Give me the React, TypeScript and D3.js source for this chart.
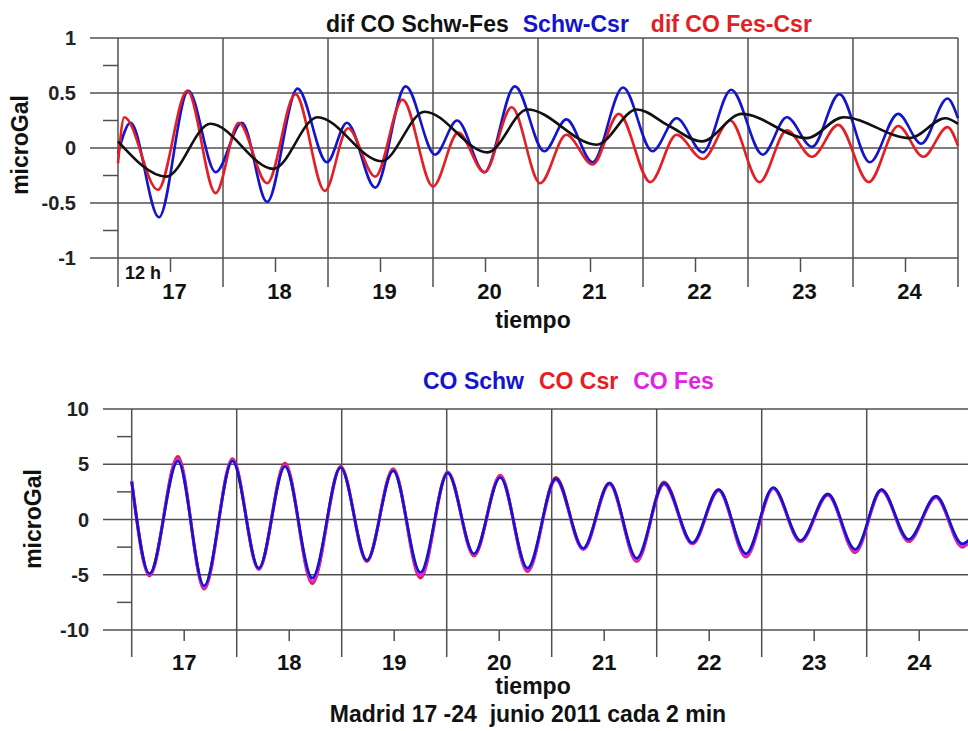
import React from "react";
import * as d3 from "d3";

// ---- upper panel: differences of ocean-loading corrections (microGal) ----
const blackTimes = [16.5, 16.96, 17.38, 17.98, 18.4, 19.01, 19.42, 20.02, 20.4, 21.06, 21.44, 21.75, 22.06, 22.44, 23.06, 23.41, 24.04, 24.38, 24.5];
const blackValues = [0.06, -0.26, 0.22, -0.19, 0.28, -0.12, 0.33, -0.04, 0.35, 0.03, 0.35, 0.2, 0.06, 0.31, 0.09, 0.28, 0.09, 0.27, 0.22];

const blueTimes = [16.5, 16.62, 16.89, 17.17, 17.43, 17.68, 17.92, 18.21, 18.49, 18.68, 18.95, 19.24, 19.52, 19.73, 19.99, 20.28, 20.56, 20.77, 21.02, 21.31, 21.59, 21.82, 22.07, 22.34, 22.64, 22.87, 23.11, 23.37, 23.66, 23.93, 24.15, 24.4, 24.5];
const blueValues = [-0.05, 0.23, -0.63, 0.52, -0.22, 0.23, -0.49, 0.54, -0.13, 0.23, -0.36, 0.56, -0.06, 0.25, -0.22, 0.56, -0.03, 0.26, -0.13, 0.55, -0.03, 0.27, -0.04, 0.53, -0.06, 0.28, 0.01, 0.49, -0.13, 0.31, 0.04, 0.45, 0.27];

const redTimes = [16.5, 16.56, 16.88, 17.16, 17.43, 17.65, 17.92, 18.19, 18.47, 18.69, 18.95, 19.21, 19.5, 19.74, 19.99, 20.25, 20.52, 20.77, 21.02, 21.27, 21.57, 21.82, 22.07, 22.33, 22.61, 22.87, 23.11, 23.36, 23.65, 23.93, 24.17, 24.4, 24.5];
const redValues = [-0.14, 0.28, -0.38, 0.52, -0.41, 0.23, -0.32, 0.49, -0.39, 0.18, -0.26, 0.44, -0.35, 0.14, -0.22, 0.37, -0.32, 0.12, -0.15, 0.31, -0.31, 0.12, -0.1, 0.25, -0.31, 0.16, -0.08, 0.21, -0.31, 0.2, -0.08, 0.19, 0.02];

// ---- lower panel: ocean-loading corrections per model (microGal) ----
const coTimes = [16.5, 16.67, 16.94, 17.19, 17.46, 17.71, 17.96, 18.22, 18.49, 18.74, 18.99, 19.25, 19.51, 19.76, 20.01, 20.27, 20.54, 20.8, 21.05, 21.31, 21.57, 21.84, 22.09, 22.35, 22.61, 22.87, 23.13, 23.39, 23.64, 23.9, 24.16, 24.41, 24.5];
const coSchw = [3.4, -4.9, 5.3, -6.0, 5.3, -4.4, 4.8, -5.3, 4.7, -3.7, 4.4, -4.8, 4.2, -3.1, 3.8, -4.4, 3.7, -2.6, 3.3, -3.5, 3.3, -2.1, 2.7, -3.1, 2.9, -1.9, 2.3, -2.7, 2.7, -1.8, 2.1, -2.2, -1.6];
const coCsr = [3.5, -5.1, 5.7, -6.3, 5.5, -4.5, 5.1, -5.8, 4.8, -3.8, 4.6, -5.3, 4.3, -3.3, 4.0, -4.7, 3.8, -2.7, 3.3, -3.8, 3.4, -2.2, 2.7, -3.4, 2.8, -2.0, 2.3, -3.0, 2.7, -2.0, 2.1, -2.5, -1.8];
const coFes = [3.5, -5.0, 5.5, -6.2, 5.4, -4.5, 4.9, -5.6, 4.7, -3.7, 4.5, -5.1, 4.2, -3.2, 3.9, -4.6, 3.6, -2.7, 3.2, -3.7, 3.2, -2.2, 2.6, -3.3, 2.8, -2.0, 2.2, -2.9, 2.6, -1.9, 2.0, -2.4, -1.7];

// ---- axes ----
const dayTicks = [17, 18, 19, 20, 21, 22, 23, 24];
const noonLines = [16.5, 17.5, 18.5, 19.5, 20.5, 21.5, 22.5, 23.5, 24.5];
const topMajor = [-1, -0.5, 0, 0.5, 1];
const topMajorLabels = ["-1", "-0.5", "0", "0.5", "1"];
const topMinor = [-0.75, -0.25, 0.25, 0.75];
const botMajor = [-10, -5, 0, 5, 10];
const botMinor = [-7.5, -2.5, 2.5, 7.5];

const BLUE = "#1414cc";
const RED = "#e31e24";
const MAGENTA = "#e022e6";
const GRID = "#505050";
const FONT = "'Liberation Sans', Arial, Helvetica, sans-serif";

const W = 968;
const H = 731;

function pathOf(times: number[], values: number[], x: d3.ScaleLinear<number, number>, y: d3.ScaleLinear<number, number>) {
  const line = d3
    .line<number>()
    .x((_, i) => x(times[i]))
    .y((v) => y(v))
    .curve(d3.curveMonotoneX);
  return line(values) || "";
}

export default function App() {
  // upper panel scales
  const xTop = d3.scaleLinear().domain([16.5, 24.5]).range([118, 958]);
  const yTop = d3.scaleLinear().domain([-1, 1]).range([258, 38]);
  // lower panel scales
  const xBot = d3.scaleLinear().domain([16.5, 24.5]).range([131.7, 971.7]);
  const yBot = d3.scaleLinear().domain([-10, 10]).range([630, 409]);

  const txt = { fontFamily: FONT, fontWeight: 700 } as const;

  return (
    <div style={{ position: "absolute", left: 0, top: 0, width: W, height: H, background: "#fff" }}>
      <svg width={W} height={H} viewBox={`0 0 ${W} ${H}`} style={{ display: "block" }}>
        <rect width={W} height={H} fill="#fff" />

        {/* ===== upper panel ===== */}
        <g>
          {topMajor.map((v) => (
            <line key={"th" + v} x1={90} x2={xTop(24.5)} y1={yTop(v)} y2={yTop(v)} stroke={GRID} strokeWidth={1.5} />
          ))}
          {topMinor.map((v) => (
            <line key={"tm" + v} x1={103} x2={xTop(16.5)} y1={yTop(v)} y2={yTop(v)} stroke={GRID} strokeWidth={1.5} />
          ))}
          {noonLines.map((t) => (
            <line key={"tv" + t} x1={xTop(t)} x2={xTop(t)} y1={yTop(1)} y2={287} stroke={GRID} strokeWidth={1.5} />
          ))}
          {dayTicks.map((t) => (
            <line key={"tt" + t} x1={xTop(t)} x2={xTop(t)} y1={yTop(-1)} y2={272} stroke={GRID} strokeWidth={1.5} />
          ))}

          <path d={pathOf(blueTimes, blueValues, xTop, yTop)} fill="none" stroke={BLUE} strokeWidth={2.6} />
          <path d={pathOf(redTimes, redValues, xTop, yTop)} fill="none" stroke={RED} strokeWidth={2.6} />
          <path d={pathOf(blackTimes, blackValues, xTop, yTop)} fill="none" stroke="#111" strokeWidth={2.6} />

          {topMajor.map((v, i) => (
            <text key={"tl" + v} x={76} y={yTop(v)} dy="0.36em" textAnchor="end" fontSize={20} style={txt} fill="#222">
              {topMajorLabels[i]}
            </text>
          ))}
          {dayTicks.map((t) => (
            <text key={"tx" + t} x={xTop(t) + 4} y={299} textAnchor="middle" fontSize={22} style={txt} fill="#111">
              {String(t)}
            </text>
          ))}
          <text x={125} y={279} fontSize={18} style={txt} fill="#111">12 h</text>
          <text x={533} y={328} textAnchor="middle" fontSize={23} style={txt} fill="#111">tiempo</text>
          <text transform={`translate(28,145) rotate(-90)`} textAnchor="middle" fontSize={23} style={txt} fill="#111">
            microGal
          </text>
          <text x={326} y={32} fontSize={23} style={txt}>
            <tspan fill="#111">dif CO Schw-Fes</tspan>
            <tspan fill={BLUE} dx={14}>Schw-Csr</tspan>
            <tspan fill={RED} dx={22}>dif CO Fes-Csr</tspan>
          </text>
        </g>

        {/* ===== lower panel ===== */}
        <g>
          {botMajor.map((v) => (
            <line key={"bh" + v} x1={103} x2={W} y1={yBot(v)} y2={yBot(v)} stroke={GRID} strokeWidth={1.5} />
          ))}
          {botMinor.map((v) => (
            <line key={"bm" + v} x1={117} x2={xBot(16.5)} y1={yBot(v)} y2={yBot(v)} stroke={GRID} strokeWidth={1.5} />
          ))}
          {noonLines.map((t) => (
            <line key={"bv" + t} x1={xBot(t)} x2={xBot(t)} y1={yBot(10)} y2={657} stroke={GRID} strokeWidth={1.5} />
          ))}
          {dayTicks.map((t) => (
            <line key={"bt" + t} x1={xBot(t)} x2={xBot(t)} y1={yBot(-10)} y2={641} stroke={GRID} strokeWidth={1.5} />
          ))}

          <path d={pathOf(coTimes, coCsr, xBot, yBot)} fill="none" stroke={RED} strokeWidth={3} />
          <path d={pathOf(coTimes, coFes, xBot, yBot)} fill="none" stroke={MAGENTA} strokeWidth={3} />
          <path d={pathOf(coTimes, coSchw, xBot, yBot)} fill="none" stroke={BLUE} strokeWidth={2.6} />

          {botMajor.map((v) => (
            <text key={"bl" + v} x={89} y={yBot(v)} dy="0.36em" textAnchor="end" fontSize={20} style={txt} fill="#222">
              {String(v)}
            </text>
          ))}
          {dayTicks.map((t) => (
            <text key={"bx" + t} x={xBot(t)} y={670} textAnchor="middle" fontSize={22} style={txt} fill="#111">
              {String(t)}
            </text>
          ))}
          <text x={533} y={694} textAnchor="middle" fontSize={23} style={txt} fill="#111">tiempo</text>
          <text x={528} y={722} textAnchor="middle" fontSize={23} style={{ ...txt, whiteSpace: "pre" }} fill="#111">
            {"Madrid 17 -24  junio 2011 cada 2 min"}
          </text>
          <text transform={`translate(41,519) rotate(-90)`} textAnchor="middle" fontSize={23} style={txt} fill="#111">
            microGal
          </text>
          <text x={423} y={389} fontSize={23} style={txt}>
            <tspan fill={BLUE}>CO Schw</tspan>
            <tspan fill={RED} dx={15}>CO Csr</tspan>
            <tspan fill={MAGENTA} dx={15}>CO Fes</tspan>
          </text>
        </g>
      </svg>
    </div>
  );
}
